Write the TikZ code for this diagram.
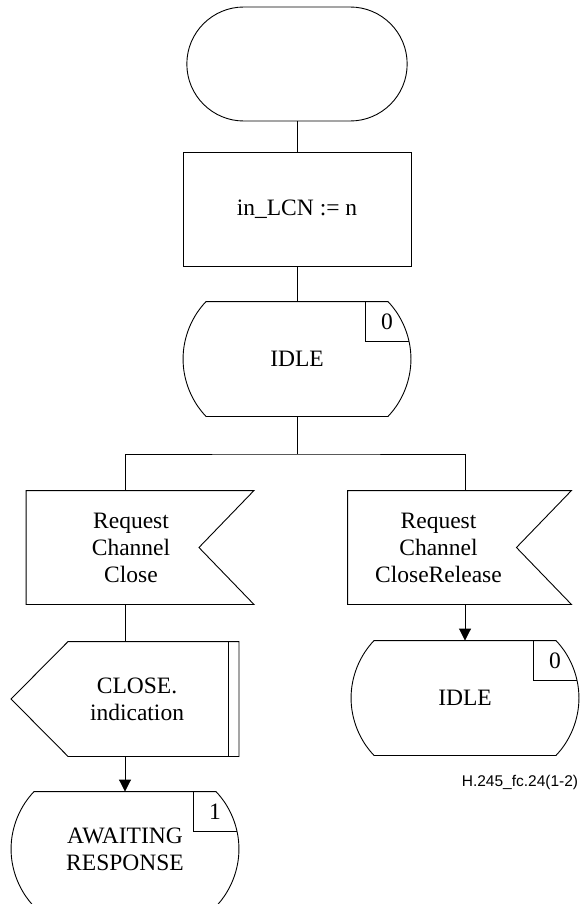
\documentclass[tikz,border=0pt]{standalone}
\usepackage{fontspec}
\setmainfont{Liberation Serif}
\newfontfamily\figfont{Liberation Sans}
\usetikzlibrary{arrows.meta,calc,shapes.misc}

\tikzset{
  sdlstart/.style={rounded rectangle,draw,minimum width=227pt,minimum height=114pt},
  sdltask/.style={rectangle,draw,minimum width=228pt,minimum height=114pt},
  % state symbol with its number in the top right corner
  sdlstate/.style={minimum width=227pt,minimum height=114pt,inner sep=0pt,align=center,
    append after command={\pgfextra{\let\statenode\tikzlastnode
      \draw ($(\statenode.north west)+(23pt,0)$) -- ($(\statenode.north east)+(-23pt,0)$)
        .. controls +(14.7pt,-15.3pt) and +(0pt,21pt) .. (\statenode.east)
        .. controls +(0pt,-21pt) and +(14.7pt,15.3pt) .. ($(\statenode.south east)+(-23pt,0)$)
        -- ($(\statenode.south west)+(23pt,0)$)
        .. controls +(-14.7pt,15.3pt) and +(0pt,-21pt) .. (\statenode.west)
        .. controls +(0pt,21pt) and +(-14.7pt,-15.3pt) .. ($(\statenode.north west)+(23pt,0)$)
        -- cycle;
      \draw ($(\statenode.north east)+(-46pt,0)$) -- ++(0pt,-40pt)
        -- ($(\statenode.north east)+(-2pt,-40pt)$);
      \node (\statenode-num) at ($(\statenode.north east)+(-24pt,-20pt)$) {#1};}}},
  % input symbol, notch on the right
  sdlinput/.style={minimum width=227pt,minimum height=113pt,inner sep=0pt,
    append after command={\pgfextra{\let\inputnode\tikzlastnode
      \draw (\inputnode.north west) -- (\inputnode.north east)
        -- ($(\inputnode.east)+(-55pt,0)$) -- (\inputnode.south east)
        -- (\inputnode.south west) -- cycle;}}},
  % output symbol, point on the left, double bar on the right
  sdloutput/.style={minimum width=227pt,minimum height=114pt,inner sep=0pt,
    append after command={\pgfextra{\let\outputnode\tikzlastnode
      \draw ($(\outputnode.north west)+(57pt,0)$) -- (\outputnode.north east)
        -- (\outputnode.south east) -- ($(\outputnode.south west)+(57pt,0)$)
        -- (\outputnode.west) -- cycle;
      \draw ($(\outputnode.north east)+(-11pt,0)$) -- ($(\outputnode.south east)+(-11pt,0)$);}}},
  sdltext/.style={align=center},
  flow/.style={-{Triangle[length=12pt,width=12pt]}}
}

\begin{document}
\begin{tikzpicture}[x=1pt,y=-1pt,line width=0.9pt,
    font=\fontsize{23.5pt}{27pt}\selectfont]
  \useasboundingbox (0,0) rectangle (580,904);

  \node[sdlstart] (start) at (297,64) {};
  \node[sdltask] (assign) at (297,209) {in\_LCN := n};
  \node[sdlstate=0] (idle) at (297,359) {IDLE};
  \coordinate (split) at (297,454);

  \node[sdlinput,label={[sdltext,xshift=-9pt]center:Request\\Channel\\Close}]
    (reqclose) at (140,547.5) {};
  \node[sdlinput,minimum width=223pt,label={[sdltext,xshift=-21pt]center:Request\\Channel\\CloseRelease}]
    (reqrelease) at (459.5,547.5) {};

  \node[sdloutput,label={[sdltext,xshift=12pt]center:CLOSE.\\indication}]
    (closeind) at (125,699) {};
  \node[sdlstate=0] (idlenext) at (465,698) {IDLE};
  \node[sdlstate=1] (awaiting) at (125,849) {AWAITING\\RESPONSE};

  \node[font=\figfont\fontsize{15.5pt}{18pt}\selectfont] (figref) at (520,782) {H.245\_fc.24(1-2)};

  % connectors
  \draw (start) -- (assign);
  \draw (assign) -- (idle);
  \draw (idle) -- (split);
  \draw (reqclose.north -| closeind.north) |- (split) -| (reqrelease.north -| idlenext.north);
  \draw (reqclose.south -| closeind.north) -- (closeind.north);
  \draw[flow] (closeind.south) -- (awaiting.north);
  \draw[flow] (reqrelease.south -| idlenext.north) -- (idlenext.north);
\end{tikzpicture}
\end{document}
